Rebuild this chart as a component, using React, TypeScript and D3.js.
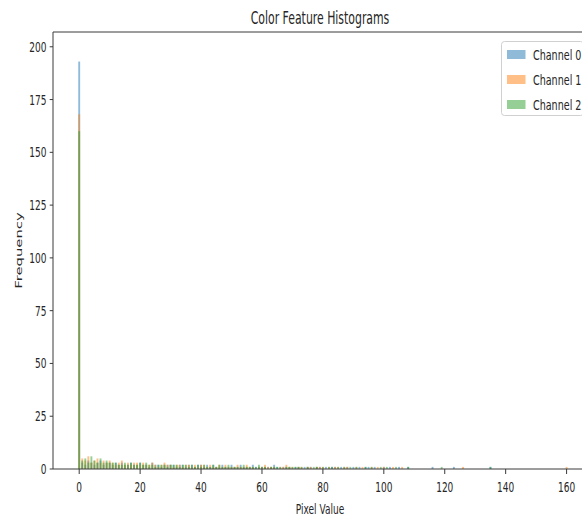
import React from "react";
import * as d3 from "d3";

const channelNames = ["Channel 0", "Channel 1", "Channel 2"];
const channelColors = ["#1f77b4", "#ff7f0e", "#2ca02c"];
const xTickValues = [0, 20, 40, 60, 80, 100, 120, 140, 160];
const yTickValues = [0, 25, 50, 75, 100, 125, 150, 175, 200];

// counts per integer pixel value, values 0..109
const channel0 = [193, 3,2,4,3,2,3,4,2,3,3, 2,3,2,3,2,2,3,2,2,3, 2,2,1,3,2,2,1,2,2,2, 2,1,2,2,1,2,2,1,2,2, 1,2,1,2,1,1,2,1,1,2, 1,1,2,1,1,1,2,1,1,1, 1,1,1,2,1,0,1,1,1,0, 1,1,0,1,1,1,0,1,1,0, 1,0,1,1,0,1,0,1,0,1, 0,1,0,1,1,0,1,0,0,1, 0,1,0,0,1,0,0,1,0];
const channel1 = [168, 5,4,6,3,4,5,3,4,3,4, 3,2,3,4,2,3,2,3,3,2, 3,2,2,3,2,1,2,3,2,2, 1,2,2,1,2,2,1,2,1,2, 2,1,2,1,1,2,1,2,1,1, 1,2,1,1,2,1,1,0,1,1, 2,1,1,1,0,1,1,2,1,1, 0,1,1,0,1,1,0,1,1,1, 0,1,0,1,1,0,1,1,0,0, 1,0,1,0,0,1,0,1,0,1, 0,0,1,0,0,1,0,0,0];
const channel2 = [160, 4,5,3,6,4,3,5,3,4,3, 3,3,2,2,3,2,3,2,2,3, 2,3,2,2,1,2,2,2,1,2, 2,2,1,2,2,1,2,1,2,1, 2,1,1,2,1,2,1,1,2,1, 1,1,1,2,1,1,1,1,2,1, 1,0,1,1,1,1,0,1,1,1, 1,1,1,0,1,0,1,1,0,1, 0,1,1,0,1,0,1,0,1,0, 1,0,0,1,0,1,0,0,1,0, 1,0,0,1,0,0,0,1,0];
// sparse tail beyond 110: [pixel value, count]
const tail0: [number, number][] = [[116, 1], [123, 1], [135, 1]];
const tail1: [number, number][] = [[126, 1], [160, 1]];
const tail2: [number, number][] = [[119, 1], [135, 1]];

const binWidth = 0.62;

const W = 582;
const H = 517;
const SX = 0.63; // horizontal text squeeze
const FONT = "DejaVu Sans, sans-serif";

const left = 53, right = 587, top = 32, bottom = 469;

function toBins(arr: number[], tail: [number, number][]) {
  const bins = arr.map((c, i) => ({ v: i, c }));
  tail.forEach(([v, c]) => bins.push({ v, c }));
  return bins.filter((b) => b.c > 0);
}

const T = ({ x, y, children, size, anchor = "start", rotate = 0, sx = SX }: any) => (
  <text
    transform={`translate(${x},${y}) rotate(${rotate}) scale(${rotate ? 1 : sx},${rotate ? sx : 1})`}
    fontSize={size}
    fontFamily={FONT}
    textAnchor={anchor}
    fill="#262626"
  >
    {children}
  </text>
);

export default function App() {
  const x = d3.scaleLinear().domain([-8.6, 166.7]).range([left, right]);
  const y = d3.scaleLinear().domain([0, 207]).range([bottom, top]);
  const series = [toBins(channel0, tail0), toBins(channel1, tail1), toBins(channel2, tail2)];

  return (
    <svg width={W} height={H} style={{ position: "absolute", left: 0, top: 0, background: "#fff" }}>
      <rect x={0} y={0} width={W} height={H} fill="#fff" />
      {series.map((bins, si) => (
        <g key={si} fill={channelColors[si]} fillOpacity={0.5}>
          {bins.map((b) => (
            <rect
              key={b.v}
              x={x(b.v - binWidth / 2)}
              width={x(b.v + binWidth / 2) - x(b.v - binWidth / 2)}
              y={y(b.c)}
              height={y(0) - y(b.c)}
            />
          ))}
        </g>
      ))}
      {/* spines */}
      <g stroke="#3a3a3a" strokeWidth={1} fill="none">
        <line x1={left} x2={right} y1={top} y2={top} />
        <line x1={left} x2={right} y1={bottom} y2={bottom} />
        <line x1={left} x2={left} y1={top} y2={bottom} />
        <line x1={right} x2={right} y1={top} y2={bottom} />
      </g>
      {/* y ticks */}
      {yTickValues.map((v) => (
        <g key={v}>
          <line x1={left - 3.3} x2={left} y1={y(v)} y2={y(v)} stroke="#3a3a3a" />
          <T x={left - 6.6} y={y(v) + 5} size={14.3} anchor="end">
            {v}
          </T>
        </g>
      ))}
      {/* x ticks */}
      {xTickValues.map((v) => (
        <g key={v}>
          <line x1={x(v)} x2={x(v)} y1={bottom} y2={bottom + 5} stroke="#3a3a3a" />
          <T x={x(v)} y={bottom + 23} size={14.3} anchor="middle">
            {v}
          </T>
        </g>
      ))}
      <T x={(left + right) / 2} y={514} size={14.3} anchor="middle">
        Pixel Value
      </T>
      <T x={22} y={(top + bottom) / 2} size={14.8} anchor="middle" rotate={-90}>
        Frequency
      </T>
      <T x={(left + right) / 2} y={24} size={17.3} anchor="middle">
        Color Feature Histograms
      </T>
      {/* legend */}
      <rect x={501.5} y={41.5} width={82} height={74} rx={3} fill="#fff" fillOpacity={0.8} stroke="#d0d0d0" />
      {channelNames.map((n, i) => (
        <g key={n}>
          <rect x={507} y={50 + i * 25} width={18.5} height={9} fill={channelColors[i]} fillOpacity={0.5} />
          <T x={533} y={59.5 + i * 25} size={14.3} sx={0.67}>
            {n}
          </T>
        </g>
      ))}
    </svg>
  );
}
